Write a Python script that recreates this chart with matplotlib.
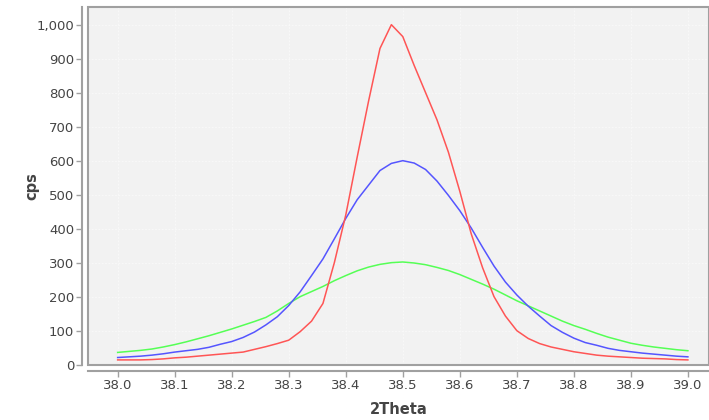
import matplotlib
matplotlib.use("Agg")
import matplotlib.pyplot as plt
from matplotlib.patches import Rectangle
from matplotlib.ticker import FuncFormatter, MultipleLocator

# 2Theta grid (step 0.02) and the three measured profiles
two_theta = [38.00 + 0.02 * i for i in range(51)]

red_cps = [14, 14, 14, 15, 17, 20, 22, 25, 28, 31,
           34, 37, 45, 53, 62, 72, 97, 128, 180, 300,
           440, 610, 775, 930, 1000, 965, 880, 800, 720, 625,
           510, 385, 285, 200, 143, 100, 77, 62, 52, 45,
           38, 33, 28, 25, 23, 21, 19, 18, 17, 15, 14]

blue_cps = [21, 23, 25, 28, 32, 37, 41, 45, 51, 60,
            68, 80, 96, 117, 141, 174, 214, 262, 311, 370,
            430, 485, 528, 571, 592, 600, 593, 574, 540, 498,
            453, 402, 345, 290, 243, 205, 172, 143, 115, 95,
            78, 65, 57, 48, 42, 38, 34, 31, 28, 25, 23]

green_cps = [36, 39, 42, 46, 52, 59, 67, 76, 85, 95,
             105, 116, 127, 139, 158, 180, 200, 215, 230, 247,
             262, 276, 287, 295, 300, 302, 299, 294, 286, 277,
             265, 251, 237, 222, 205, 188, 173, 158, 143, 128,
             115, 104, 92, 81, 72, 63, 57, 52, 48, 44, 41]

fig = plt.figure(figsize=(7.09, 4.2), dpi=100)
fig.patch.set_facecolor("white")
ax = fig.add_axes([88 / 709, 1 - 365 / 420, (709 - 88) / 709, (365 - 7) / 420])
ax.set_facecolor("#f2f2f2")

ax.plot(two_theta, green_cps, color="#55ff55", lw=1.1)
ax.plot(two_theta, blue_cps, color="#5555ff", lw=1.1)
ax.plot(two_theta, red_cps, color="#ff5555", lw=1.1)

ax.set_xlim(37.948, 39.037)
ax.set_ylim(-1, 1052)
ax.xaxis.set_major_locator(MultipleLocator(0.1))
ax.yaxis.set_major_locator(MultipleLocator(100))
ax.xaxis.set_major_formatter(FuncFormatter(lambda v, p: f"{v:.1f}"))
ax.yaxis.set_major_formatter(FuncFormatter(lambda v, p: f"{int(round(v)):,}"))

ax.grid(True, color="#fafafa", linestyle=(0, (2, 2)), linewidth=0.6)
ax.set_axisbelow(True)

# axis lines sit a little outside the plot area
for side in ["top", "right"]:
    ax.spines[side].set_visible(False)
for side in ["left", "bottom"]:
    ax.spines[side].set_position(("outward", 4))
    ax.spines[side].set_color("#a0a0a0")
    ax.spines[side].set_linewidth(1.5)

ax.add_patch(Rectangle((0, 0), 1, 1, transform=ax.transAxes, fill=False,
                       edgecolor="#a0a0a0", linewidth=1.5, clip_on=False, zorder=5))

ax.tick_params(axis="both", direction="out", length=4, width=1,
               color="#a0a0a0", labelcolor="#444444", labelsize=9.5, pad=2)

ax.set_xlabel("2Theta", fontsize=10.5, fontweight="bold", color="#444444", labelpad=7)
ax.set_ylabel("cps", fontsize=10.5, fontweight="bold", color="#444444", labelpad=-2)

fig.savefig("out.png", dpi=100)
